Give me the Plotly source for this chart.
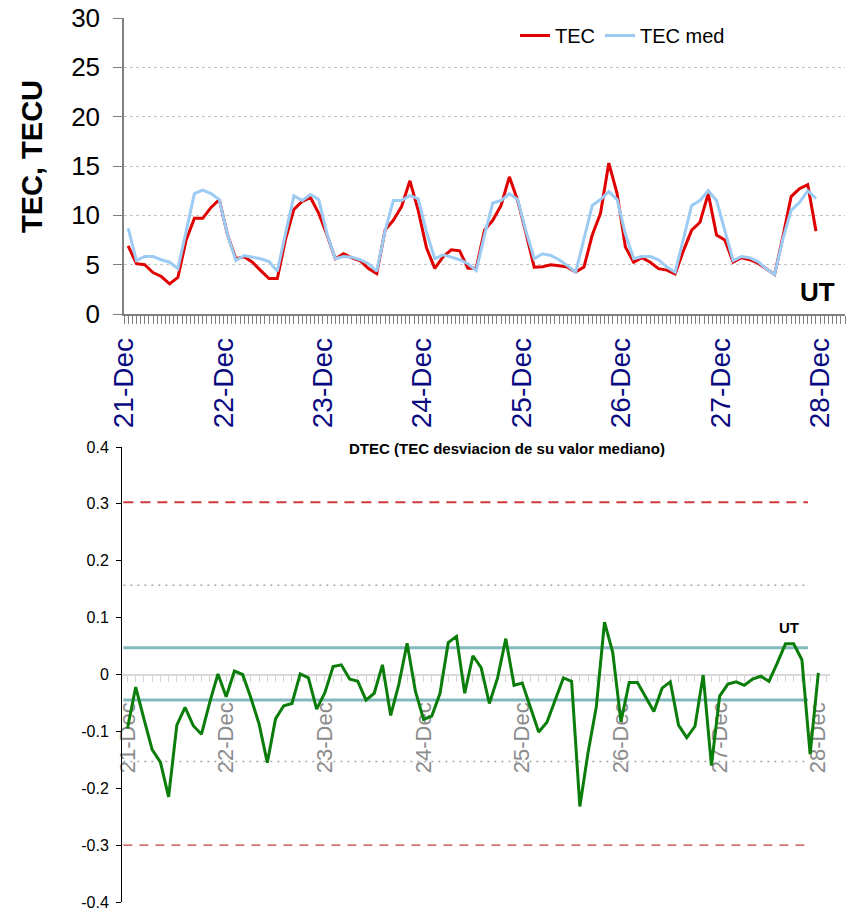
import pandas as pd
import plotly.graph_objects as go

W, H = 847, 912
FONT = "Liberation Sans, Arial, sans-serif"

# ---- TEC series: 2-hourly values (01:00, 03:00, ... 23:00 UT), 21-27 Dec ----
TEC = [
    6.9, 5.1, 5.0, 4.2, 3.8, 3.05, 3.7, 7.5, 9.7, 9.7, 10.8, 11.6,
    8.0, 5.6, 5.8, 5.25, 4.4, 3.6, 3.6, 7.6, 10.6, 11.4, 11.8, 10.2,
    8.0, 5.6, 6.1, 5.7, 5.4, 4.6, 4.1, 8.5, 9.5, 10.9, 13.5, 10.5,
    6.7, 4.63, 5.8, 6.5, 6.4, 4.63, 4.64, 8.5, 9.5, 11.0, 13.9, 11.5,
    8.2, 4.75, 4.8, 5.0, 4.9, 4.75, 4.25, 4.75, 8.0, 10.2, 15.3, 12.2,
    6.8, 5.25, 5.7, 5.25, 4.6, 4.45, 4.07, 6.4, 8.5, 9.3, 12.2, 8.0,
    7.5, 5.25, 5.7, 5.5, 5.15, 4.6, 4.0, 7.8, 11.9, 12.7, 13.1, 8.4,
]
TEC_MED = [
    8.7, 5.42, 5.83, 5.83, 5.5, 5.25, 4.6, 8.4, 12.2, 12.55, 12.2, 11.6,
    8.0, 5.42, 5.93, 5.76, 5.6, 5.32, 4.34, 8.2, 11.97, 11.5, 12.1, 11.6,
    8.1, 5.6, 5.83, 5.76, 5.5, 5.1, 4.34, 8.4, 11.5, 11.5, 12.0, 11.7,
    8.3, 5.6, 6.0, 5.76, 5.5, 5.1, 4.4, 8.0, 11.25, 11.5, 12.2, 11.6,
    8.4, 5.6, 6.1, 5.93, 5.5, 4.9, 4.24, 7.6, 11.0, 11.6, 12.4, 11.6,
    8.1, 5.6, 5.83, 5.83, 5.5, 4.75, 4.24, 7.6, 11.0, 11.5, 12.5, 11.5,
    8.5, 5.42, 5.83, 5.7, 5.32, 4.58, 4.0, 7.6, 10.5, 11.3, 12.5, 11.7,
]
TEC_START = "2024-12-21 01:00"

# ---- DTEC series: 2-hourly, 21 Dec 00:00 to 28 Dec 00:00 UT ----
DTEC = [
    -0.095, -0.022, -0.078, -0.132, -0.154, -0.215, -0.089, -0.058, -0.090, -0.105,
    -0.049, 0.001, -0.039, 0.006, 0.000, -0.041, -0.087, -0.155, -0.078, -0.055,
    -0.051, 0.001, -0.006, -0.061, -0.032, 0.014, 0.017, -0.008, -0.012, -0.045,
    -0.033, 0.017, -0.072, -0.017, 0.055, -0.029, -0.079, -0.073, -0.033, 0.056,
    0.067, -0.033, 0.033, 0.012, -0.051, -0.006, 0.063, -0.019, -0.015, -0.058,
    -0.101, -0.084, -0.044, -0.006, -0.012, -0.232, -0.137, -0.057, 0.092, 0.039,
    -0.083, -0.014, -0.014, -0.040, -0.065, -0.024, -0.013, -0.089, -0.111, -0.091,
    -0.001, -0.160, -0.038, -0.017, -0.013, -0.019, -0.008, -0.003, -0.012, 0.020,
    0.054, 0.054, 0.026, -0.140, 0.003,
]
DTEC_START = "2024-12-21 00:00"

# threshold levels drawn across the DTEC panel
LIM_OUTER = [0.303, -0.300]
LIM_MID = [0.157, -0.153]
LIM_INNER = [0.047, -0.045]
LIM_SPAN = ["2024-12-20 23:00", "2024-12-27 21:30"]

TOP_Y_TICKS = [0, 5, 10, 15, 20, 25, 30]
BOT_Y_TICKS = [0.4, 0.3, 0.2, 0.1, 0, -0.1, -0.2, -0.3, -0.4]

tec_x = pd.date_range(TEC_START, periods=len(TEC), freq="2h")
dtec_x = pd.date_range(DTEC_START, periods=len(DTEC), freq="2h")


def px_x(p):
    return p / W


def px_y(p):
    return 1 - p / H


fig = go.Figure()

fig.add_trace(go.Scatter(x=tec_x, y=TEC, name="TEC", mode="lines",
                         line=dict(color="#e00000", width=3),
                         xaxis="x", yaxis="y"))
fig.add_trace(go.Scatter(x=tec_x, y=TEC_MED, name="TEC med", mode="lines",
                         line=dict(color="#9ccbf3", width=3),
                         xaxis="x", yaxis="y"))

for lvl, w, dash in zip(LIM_OUTER, [2, 1.2], ["10px,7px", "9px,7px"]):
    fig.add_trace(go.Scatter(x=LIM_SPAN, y=[lvl, lvl], mode="lines", showlegend=False,
                             line=dict(color="#d03a3a", width=w, dash=dash),
                             xaxis="x2", yaxis="y2", hoverinfo="skip"))
for lvl in LIM_MID:
    fig.add_trace(go.Scatter(x=LIM_SPAN, y=[lvl, lvl], mode="lines", showlegend=False,
                             line=dict(color="#a8a8a8", width=1.5, dash="2px,5px"),
                             xaxis="x2", yaxis="y2", hoverinfo="skip"))
for lvl in LIM_INNER:
    fig.add_trace(go.Scatter(x=LIM_SPAN, y=[lvl, lvl], mode="lines", showlegend=False,
                             line=dict(color="#82b9bd", width=3),
                             xaxis="x2", yaxis="y2", hoverinfo="skip"))

fig.add_trace(go.Scatter(x=dtec_x, y=DTEC, mode="lines", showlegend=False, name="DTEC",
                         line=dict(color="#0b7d0b", width=3),
                         xaxis="x2", yaxis="y2"))

top_dom_y = [px_y(314), px_y(18)]
bot_dom_y = [px_y(902), px_y(447)]

fig.update_layout(
    width=W, height=H,
    margin=dict(l=0, r=0, t=0, b=0, pad=0, autoexpand=False),
    paper_bgcolor="white", plot_bgcolor="white",
    font=dict(family=FONT, color="black"),
    showlegend=True,
    legend=dict(orientation="h", x=px_x(515), y=px_y(16), xanchor="left", yanchor="top",
                bgcolor="white", font=dict(size=20, family=FONT), itemwidth=30,
                tracegroupgap=0),
    xaxis=dict(
        domain=[px_x(124), px_x(845)],
        type="date",
        range=["2024-12-21 00:00", "2024-12-28 06:00"],
        tick0="2024-12-21", dtick=86400000, tickformat="%d-%b",
        tickangle=-90, tickfont=dict(size=28, color="#0a0a80", family=FONT),
        ticks="outside", ticklen=8, tickcolor="#808080", ticklabelstandoff=3,
        minor=dict(ticks="outside", dtick=3600000, tick0="2024-12-21", ticklen=8,
                   tickcolor="#808080", showgrid=False),
        showline=True, linecolor="#808080", linewidth=1.5,
        showgrid=False, zeroline=False, anchor="y", automargin=False,
    ),
    yaxis=dict(
        domain=top_dom_y, range=[0, 30],
        tickvals=TOP_Y_TICKS, tickfont=dict(size=26, family=FONT),
        ticks="outside", ticklen=9, tickcolor="#808080", ticklabelstandoff=8,
        showline=True, linecolor="#808080", linewidth=1.5,
        showgrid=True, gridcolor="#c4c4c4", griddash="dot", gridwidth=1,
        zeroline=False, anchor="x", automargin=False,
    ),
    xaxis2=dict(
        domain=[px_x(122), px_x(830)],
        type="date",
        range=["2024-12-20 22:40", "2024-12-28 02:50"],
        tick0="2024-12-21", dtick=86400000, tickformat="%d-%b",
        tickangle=-90, tickfont=dict(size=22, color="#8c8c8c", family=FONT),
        ticks="outside", ticklen=6, tickcolor="#d4d4d4", ticklabelstandoff=12,
        minor=dict(ticks="outside", dtick=7200000, tick0="2024-12-21", ticklen=6,
                   tickcolor="#d4d4d4", showgrid=False),
        showline=True, linecolor="#d9d9d9", linewidth=2,
        showgrid=False, zeroline=False, automargin=False,
        anchor="free", position=(bot_dom_y[0] + bot_dom_y[1]) / 2,
        layer="below traces",
    ),
    yaxis2=dict(
        domain=bot_dom_y, range=[-0.4, 0.4],
        tickvals=BOT_Y_TICKS, ticktext=[f"{v:g}" for v in BOT_Y_TICKS],
        tickfont=dict(size=16, family=FONT), ticklabeloverflow="allow",
        ticks="outside", ticklen=5, tickcolor="black", ticklabelstandoff=4,
        showline=True, linecolor="black", linewidth=1,
        showgrid=False, zeroline=False, anchor="x2", automargin=False,
    ),
    annotations=[
        dict(text="<b>TEC, TECU</b>", x=px_x(32), y=px_y(157), xref="paper", yref="paper",
             textangle=-90, showarrow=False, font=dict(size=29, family=FONT),
             xanchor="center", yanchor="middle"),
        dict(text="<b>UT</b>", x=px_x(817), y=px_y(292), xref="paper", yref="paper",
             showarrow=False, font=dict(size=26, family=FONT),
             xanchor="center", yanchor="middle"),
        dict(text="<b>DTEC (TEC desviacion de su valor mediano)</b>",
             x=px_x(507), y=px_y(448), xref="paper", yref="paper",
             showarrow=False, font=dict(size=15, family=FONT),
             xanchor="center", yanchor="middle"),
        dict(text="<b>UT</b>", x=px_x(789), y=px_y(627), xref="paper", yref="paper",
             showarrow=False, font=dict(size=15, family=FONT),
             xanchor="center", yanchor="middle"),
    ],
)

fig.write_html("out.html")
